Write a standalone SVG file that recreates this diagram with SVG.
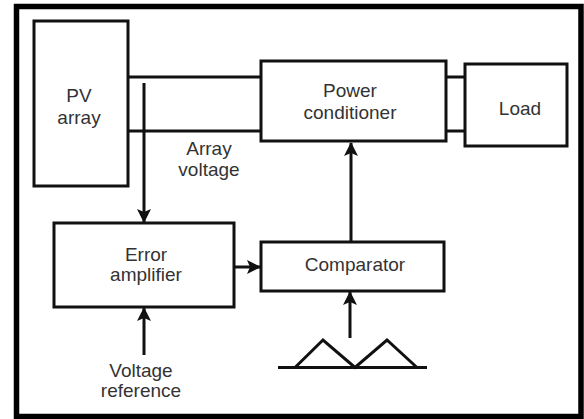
<svg xmlns="http://www.w3.org/2000/svg" width="584" height="419" viewBox="0 0 584 419">
  <style>
    .box { fill: #ffffff; stroke: #111111; stroke-width: 3; }
    .wire { fill: none; stroke: #111111; stroke-width: 3; }
    .lbl { font-family: "Liberation Sans", Arial, sans-serif; font-size: 19px; fill: #333333; text-anchor: middle; }
  </style>
  <defs>
    <marker id="arrow" viewBox="0 0 14 14" markerWidth="14" markerHeight="14" refX="13" refY="7" orient="auto" markerUnits="userSpaceOnUse">
      <path d="M0,0 L14,7 L0,14 L3,7 z" fill="#111111"/>
    </marker>
  </defs>
  <rect x="0" y="0" width="584" height="419" fill="#ffffff"/>
  <rect id="frame" x="16.5" y="6.5" width="564.5" height="410" fill="none" stroke="#000000" stroke-width="5.5"/>

  <g id="connectors">
    <line class="wire" x1="128" y1="77" x2="261" y2="77"/>
    <line class="wire" x1="128" y1="131" x2="261" y2="131"/>
    <line class="wire" x1="446" y1="77" x2="465" y2="77"/>
    <line class="wire" x1="446" y1="131" x2="465" y2="131"/>
    <line class="wire" x1="144" y1="83" x2="144" y2="222" marker-end="url(#arrow)"/>
    <line class="wire" x1="234" y1="267" x2="260" y2="267" marker-end="url(#arrow)"/>
    <line class="wire" x1="144" y1="355" x2="144" y2="308" marker-end="url(#arrow)"/>
    <line class="wire" x1="351" y1="242" x2="351" y2="143" marker-end="url(#arrow)"/>
    <line class="wire" x1="350" y1="338" x2="350" y2="292" marker-end="url(#arrow)"/>
  </g>

  <g id="pv-array">
    <rect class="box" x="34" y="21" width="94" height="165"/>
    <text class="lbl" x="79" y="102">PV</text>
    <text class="lbl" x="79" y="124">array</text>
  </g>

  <g id="array-voltage-label">
    <text class="lbl" x="209" y="155">Array</text>
    <text class="lbl" x="209" y="176">voltage</text>
  </g>

  <g id="power-conditioner">
    <rect class="box" x="261" y="61" width="185" height="80"/>
    <text class="lbl" x="350" y="97">Power</text>
    <text class="lbl" x="350" y="119">conditioner</text>
  </g>

  <g id="load">
    <rect class="box" x="465" y="64" width="102" height="82"/>
    <text class="lbl" x="520" y="115">Load</text>
  </g>

  <g id="error-amplifier">
    <rect class="box" x="54" y="223" width="180" height="84"/>
    <text class="lbl" x="146" y="261">Error</text>
    <text class="lbl" x="146" y="281">amplifier</text>
  </g>

  <g id="comparator">
    <rect class="box" x="261" y="242" width="183" height="49"/>
    <text class="lbl" x="355" y="271">Comparator</text>
  </g>

  <g id="voltage-reference">
    <text class="lbl" x="141" y="377">Voltage</text>
    <text class="lbl" x="141" y="397">reference</text>
  </g>

  <g id="triangle-wave">
    <line class="wire" x1="278" y1="367.5" x2="427" y2="367.5"/>
    <polyline class="wire" points="295,367.5 323,340 355,367.5 387,340 417,367.5"/>
  </g>
</svg>
